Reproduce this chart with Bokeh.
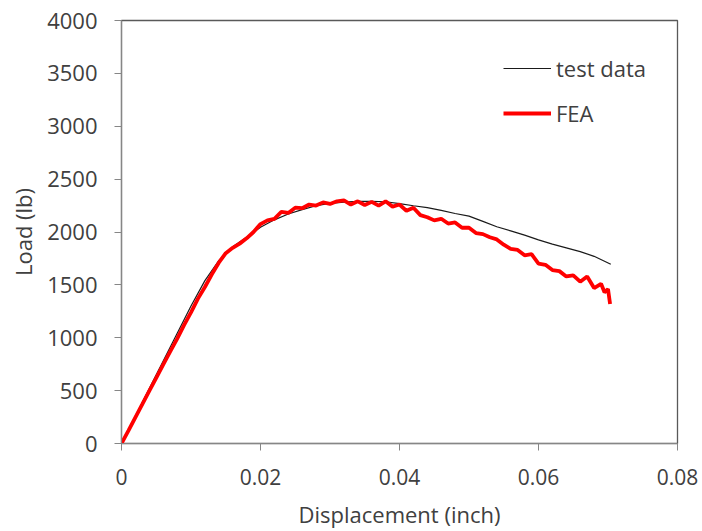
from bokeh.plotting import figure
from bokeh.models import Range1d, Legend, LegendItem, FixedTicker, CustomJSTickFormatter
from bokeh.embed import file_html
from bokeh.resources import INLINE

# Test data (black thin line)
test_x = [0.000, 0.002, 0.004, 0.006, 0.008, 0.010, 0.012, 0.014, 0.016, 0.018,
          0.020, 0.022, 0.024, 0.026, 0.028, 0.030, 0.032, 0.034, 0.036, 0.038,
          0.040, 0.042, 0.044, 0.046, 0.048, 0.050, 0.052, 0.054, 0.056, 0.058,
          0.060, 0.062, 0.064, 0.066, 0.068, 0.0704]
test_y = [0, 260, 520, 780, 1040, 1300, 1540, 1730, 1860, 1950,
          2045, 2115, 2170, 2212, 2248, 2270, 2283, 2290, 2290, 2286,
          2268, 2248, 2230, 2205, 2175, 2150, 2100, 2050, 2010, 1970,
          1925, 1885, 1850, 1815, 1770, 1695]

# FEA (red thick line)
fea_x = [0.000, 0.001, 0.002, 0.003, 0.004, 0.005, 0.006, 0.007, 0.008, 0.009,
         0.010, 0.011, 0.012, 0.013, 0.014, 0.015, 0.016, 0.017, 0.018, 0.019,
         0.020, 0.021, 0.022, 0.023, 0.024, 0.025, 0.026, 0.027, 0.028, 0.029,
         0.030, 0.031, 0.032, 0.033, 0.034, 0.035, 0.036, 0.037, 0.038, 0.039,
         0.040, 0.041, 0.042, 0.043, 0.044, 0.045, 0.046, 0.047, 0.048, 0.049,
         0.050, 0.051, 0.052, 0.053, 0.054, 0.055, 0.056, 0.057, 0.058, 0.059,
         0.060, 0.061, 0.062, 0.063, 0.064, 0.065, 0.066, 0.067, 0.068, 0.069,
         0.0695, 0.070, 0.0703]
fea_y = [0, 122, 248, 372, 498, 620, 745, 868, 990, 1120,
         1240, 1370, 1480, 1600, 1710, 1800, 1850, 1890, 1940, 2000,
         2075, 2110, 2125, 2190, 2180, 2230, 2225, 2260, 2250, 2280,
         2265, 2290, 2300, 2260, 2290, 2255, 2285, 2250, 2290, 2240,
         2260, 2200, 2230, 2160, 2140, 2110, 2125, 2080, 2090, 2040,
         2040, 1990, 1980, 1950, 1930, 1880, 1840, 1830, 1780, 1790,
         1700, 1690, 1640, 1630, 1580, 1590, 1530, 1580, 1470, 1510,
         1430, 1460, 1320]

x_ticks = [0, 0.02, 0.04, 0.06, 0.08]
y_ticks = [0, 500, 1000, 1500, 2000, 2500, 3000, 3500, 4000]

FONT = "Open Sans"
TXT = "#404040"

p = figure(width=702, height=531, output_backend="svg", toolbar_location=None,
           x_range=Range1d(0, 0.08), y_range=Range1d(0, 4000),
           min_border_left=121, min_border_right=25, min_border_top=20, min_border_bottom=86)

p.xgrid.visible = False
p.ygrid.visible = False
p.outline_line_color = "#595959"
p.outline_line_width = 1.3

r_test = p.line(test_x, test_y, line_color="#1a1a1a", line_width=1.2)
r_fea = p.line(fea_x, fea_y, line_color="#ff0000", line_width=3.8)

for ax in (p.xaxis[0], p.yaxis[0]):
    ax.axis_line_color = "#868686"
    ax.axis_line_width = 1.2
    ax.major_tick_line_color = "#868686"
    ax.major_tick_out = 7
    ax.major_tick_in = 0
    ax.minor_tick_out = 0
    ax.minor_tick_in = 0
    ax.major_label_text_font = FONT
    ax.major_label_text_color = TXT
    ax.axis_label_text_font = FONT
    ax.axis_label_text_font_size = "22px"
    ax.axis_label_text_font_style = "normal"
    ax.axis_label_text_color = TXT

p.xaxis.major_label_text_font_size = "21px"
p.yaxis.major_label_text_font_size = "22px"
p.xaxis.ticker = FixedTicker(ticks=x_ticks)
p.yaxis.ticker = FixedTicker(ticks=y_ticks)
p.xaxis.formatter = CustomJSTickFormatter(code="return tick == 0 ? '0' : tick.toFixed(2);")
p.xaxis.axis_label = "Displacement (inch)"
p.yaxis.axis_label = "Load (lb)"
p.xaxis.major_label_standoff = 18
p.yaxis.major_label_standoff = 17
p.xaxis.axis_label_standoff = 11
p.yaxis.axis_label_standoff = 6

legend = Legend(items=[LegendItem(label="test data", renderers=[r_test]),
                       LegendItem(label="FEA", renderers=[r_fea])],
                location=(382, 315), border_line_color=None, background_fill_alpha=0,
                padding=0, margin=0, spacing=15, glyph_width=48, glyph_height=30,
                label_height=30, label_standoff=5,
                label_text_font=FONT, label_text_font_size="22px", label_text_color=TXT)
p.add_layout(legend)

open("out.html", "w").write(file_html(p, INLINE))
